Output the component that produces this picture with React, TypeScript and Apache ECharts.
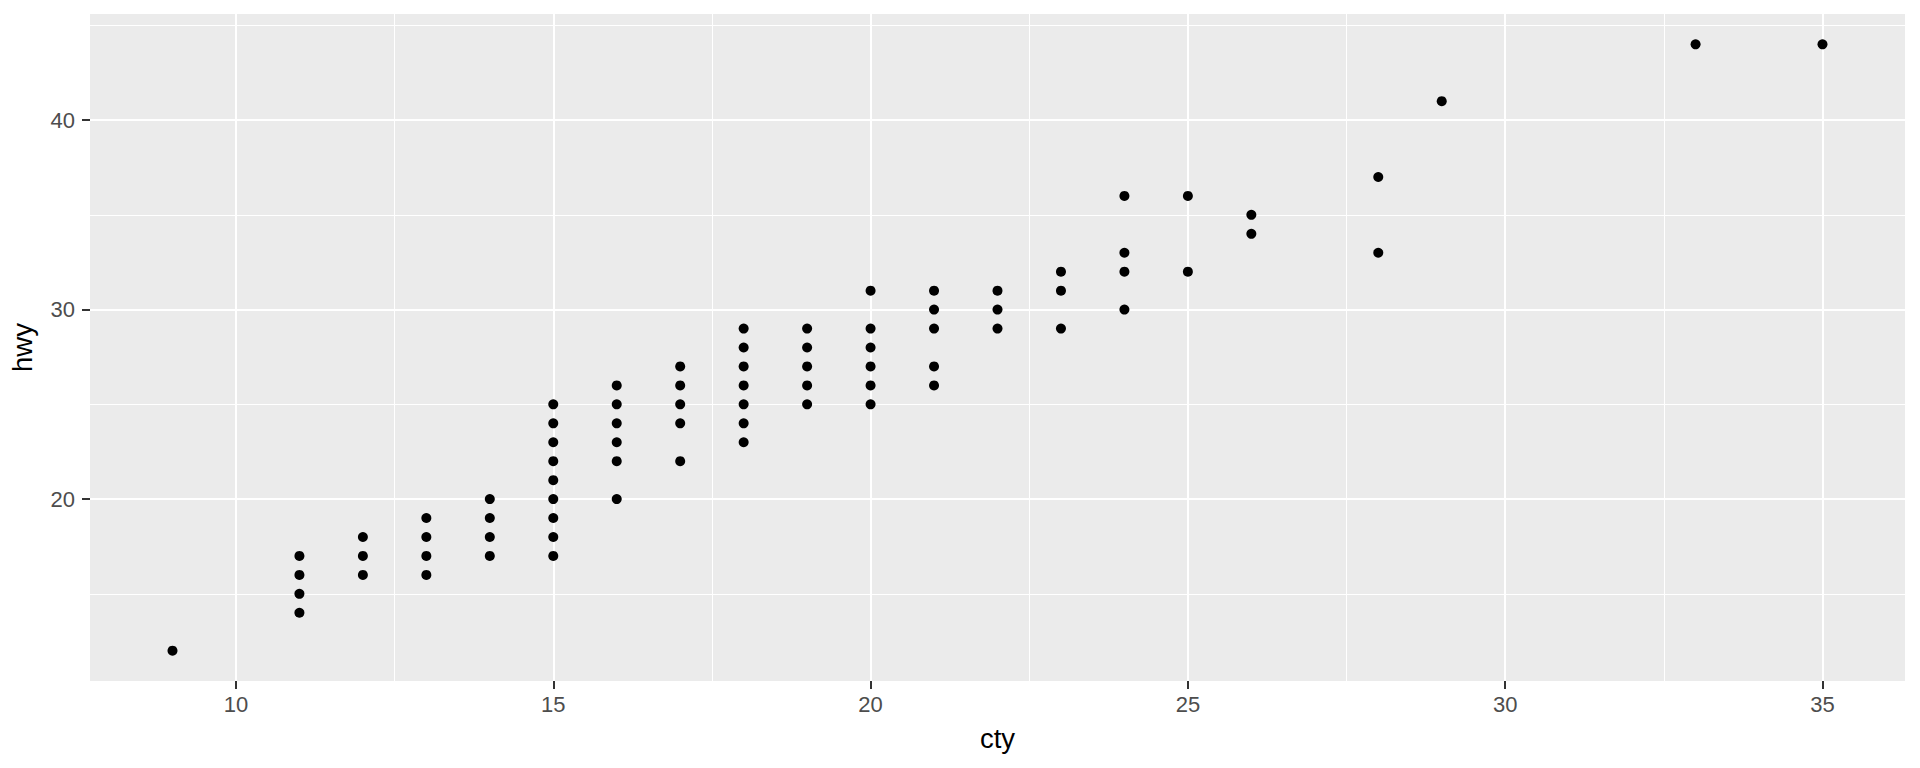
import { useEffect, useRef } from 'react';
import * as echarts from 'echarts';

// cty / hwy pairs (distinct points as drawn)
const cty = [
  9,
  11, 11, 11, 11,
  12, 12, 12,
  13, 13, 13, 13,
  14, 14, 14, 14,
  15, 15, 15, 15, 15, 15, 15, 15, 15,
  16, 16, 16, 16, 16, 16,
  17, 17, 17, 17, 17,
  18, 18, 18, 18, 18, 18, 18,
  19, 19, 19, 19, 19,
  20, 20, 20, 20, 20, 20,
  21, 21, 21, 21, 21,
  22, 22, 22,
  23, 23, 23,
  24, 24, 24, 24,
  25, 25,
  26, 26,
  28, 28,
  29,
  33,
  35,
];
const hwy = [
  12,
  14, 15, 16, 17,
  16, 17, 18,
  16, 17, 18, 19,
  17, 18, 19, 20,
  17, 18, 19, 20, 21, 22, 23, 24, 25,
  20, 22, 23, 24, 25, 26,
  22, 24, 25, 26, 27,
  23, 24, 25, 26, 27, 28, 29,
  25, 26, 27, 28, 29,
  25, 26, 27, 28, 29, 31,
  26, 27, 29, 30, 31,
  29, 30, 31,
  29, 31, 32,
  30, 32, 33, 36,
  32, 36,
  34, 35,
  33, 37,
  41,
  44,
  44,
];

const xBreaks = [10, 15, 20, 25, 30, 35];
const xMinorBreaks = [12.5, 17.5, 22.5, 27.5, 32.5];
const yBreaks = [20, 30, 40];
const yMinorBreaks = [15, 25, 35, 45];

const xLimits = [7.7, 36.3];
const yLimits = [10.4, 45.6];

const FONT = '"Liberation Sans", Arial, sans-serif';

export default function App() {
  const chartRef = useRef<HTMLDivElement>(null);

  useEffect(() => {
    if (!chartRef.current) return;
    const chart = echarts.init(chartRef.current, null, { renderer: 'svg' });

    const gridLines = [
      ...xMinorBreaks.map((v) => ({ xAxis: v, lineStyle: { width: 1 } })),
      ...yMinorBreaks.map((v) => ({ yAxis: v, lineStyle: { width: 1 } })),
      ...xBreaks.map((v) => ({ xAxis: v, lineStyle: { width: 2 } })),
      ...yBreaks.map((v) => ({ yAxis: v, lineStyle: { width: 2 } })),
    ];

    const tickLabel = { color: '#4D4D4D', fontSize: 22, fontFamily: FONT };

    chart.setOption({
      animation: false,
      grid: {
        left: 89,
        right: 15,
        top: 14,
        bottom: 87,
        show: true,
        backgroundColor: '#EBEBEB',
        borderWidth: 0,
      },
      xAxis: {
        type: 'value',
        min: xLimits[0],
        max: xLimits[1],
        name: 'cty',
        nameLocation: 'middle',
        nameGap: 43,
        nameTextStyle: { color: '#000000', fontSize: 27.5, fontFamily: FONT },
        axisLine: { show: false },
        splitLine: { show: false },
        axisTick: {
          show: true,
          customValues: xBreaks,
          length: 8,
          lineStyle: { color: '#333333', width: 2 },
        },
        axisLabel: { ...tickLabel, customValues: xBreaks, margin: 12 },
      },
      yAxis: {
        type: 'value',
        min: yLimits[0],
        max: yLimits[1],
        name: 'hwy',
        nameLocation: 'middle',
        nameGap: 54,
        nameTextStyle: { color: '#000000', fontSize: 27.5, fontFamily: FONT },
        axisLine: { show: false },
        splitLine: { show: false },
        axisTick: {
          show: true,
          customValues: yBreaks,
          length: 8,
          lineStyle: { color: '#333333', width: 2 },
        },
        axisLabel: { ...tickLabel, customValues: yBreaks, margin: 15 },
      },
      series: [
        {
          // panel grid lines, kept under the points
          type: 'line',
          data: [],
          z: 1,
          silent: true,
          markLine: {
            z: 1,
            silent: true,
            symbol: ['none', 'none'],
            label: { show: false },
            lineStyle: { color: '#FFFFFF', type: 'solid' },
            emphasis: { disabled: true },
            data: gridLines,
          },
        },
        {
          type: 'scatter',
          z: 3,
          symbol: 'circle',
          symbolSize: 10,
          itemStyle: { color: '#000000', opacity: 1 },
          data: cty.map((c, i) => [c, hwy[i]]),
        },
      ],
    });

    return () => {
      chart.dispose();
    };
  }, []);

  return (
    <div
      ref={chartRef}
      style={{ position: 'absolute', left: 0, top: 0, width: 1920, height: 768, background: '#FFFFFF' }}
    />
  );
}
